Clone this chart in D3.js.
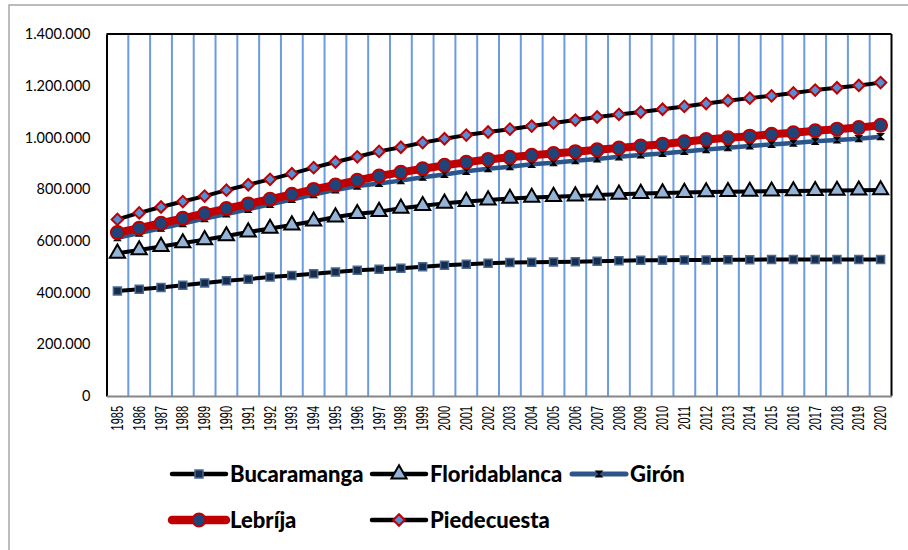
<!DOCTYPE html>
<html>
<head>
<meta charset="utf-8">
<script src="https://cdn.jsdelivr.net/npm/d3@7"></script>
<style>
  body { margin: 0; background: #fff; }
  svg { display: block; }
</style>
</head>
<body>
<svg id="chart" width="908" height="550"></svg>
<script>
// Population by municipality, 1985-2020
const years = ['1985','1986','1987','1988','1989','1990','1991','1992','1993','1994','1995','1996',
  '1997','1998','1999','2000','2001','2002','2003','2004','2005','2006','2007','2008',
  '2009','2010','2011','2012','2013','2014','2015','2016','2017','2018','2019','2020'];

const bucaramanga = [406000, 413000, 420000, 428000, 437000, 446000, 452000, 460000, 466000, 473000, 480000, 486000,
  490000, 494000, 500000, 506000, 510000, 513000, 516000, 517000, 518000, 519000, 521000, 523000,
  525000, 525000, 526000, 526000, 527000, 527000, 528000, 528000, 528000, 528000, 528000, 528000];
const floridablanca = [552000, 565000, 578000, 592000, 604000, 619000, 634000, 648000, 661000, 676000, 692000, 705000,
  713000, 726000, 736000, 745000, 752000, 758000, 764000, 768000, 771000, 773000, 777000, 780000,
  783000, 785000, 787000, 789000, 790000, 791000, 792000, 793000, 794000, 795000, 796000, 797000];
const giron = [612000, 630000, 649000, 667000, 686000, 704000, 722000, 741000, 760000, 779000, 797000, 812000,
  822000, 833000, 846000, 857000, 869000, 879000, 887000, 896000, 902000, 910000, 917000, 925000,
  932000, 938000, 946000, 953000, 960000, 967000, 973000, 978000, 985000, 990000, 995000, 1003000];
const lebrija = [632000, 649000, 668000, 687000, 706000, 725000, 743000, 761000, 780000, 799000, 816000, 834000,
  851000, 865000, 879000, 892000, 904000, 915000, 923000, 931000, 938000, 945000, 952000, 959000,
  967000, 974000, 983000, 992000, 999000, 1005000, 1012000, 1018000, 1026000, 1032000, 1038000, 1047000];
const piedecuesta = [683000, 708000, 731000, 752000, 773000, 796000, 817000, 838000, 860000, 883000, 905000, 925000,
  946000, 962000, 980000, 995000, 1009000, 1021000, 1032000, 1044000, 1056000, 1067000, 1079000, 1089000,
  1098000, 1109000, 1120000, 1131000, 1142000, 1152000, 1161000, 1172000, 1183000, 1192000, 1201000, 1212000];

const yTicks = [0, 200000, 400000, 600000, 800000, 1000000, 1200000, 1400000];

const series = [
  { name: 'Bucaramanga', values: bucaramanga, line: '#000', lineWidth: 4, marker: 'square' },
  { name: 'Floridablanca', values: floridablanca, line: '#000', lineWidth: 4, marker: 'triangle' },
  { name: 'Girón', values: giron, line: '#2c5689', lineWidth: 4.5, marker: 'x' },
  { name: 'Lebríja', values: lebrija, line: '#c00000', lineWidth: 8, marker: 'circle' },
  { name: 'Piedecuesta', values: piedecuesta, line: '#000', lineWidth: 4, marker: 'diamond' }
];

const svg = d3.select('#chart');
const margin = { top: 34, right: 16.5, bottom: 154, left: 106.5 };
const W = 908, H = 550;

// outer chart frame
svg.append('rect')
  .attr('x', 9).attr('y', 5)
  .attr('width', 920).attr('height', 600)
  .attr('fill', '#fff')
  .attr('stroke', '#a6a6a6').attr('stroke-width', 1.5);

const x = d3.scaleBand()
  .domain(years)
  .range([margin.left, W - margin.right])
  .padding(0);

const y = d3.scaleLinear()
  .domain([0, 1400000])
  .range([H - margin.bottom, margin.top]);

const cx = d => x(d) + x.bandwidth() / 2;

// vertical grid lines at category boundaries
svg.append('g')
  .selectAll('line')
  .data(years.slice(1))
  .join('line')
  .attr('x1', d => x(d)).attr('x2', d => x(d))
  .attr('y1', y(1400000)).attr('y2', y(0))
  .attr('stroke', '#6b9be0').attr('stroke-width', 2);

// plot frame: top, right, left black; bottom grey
const x0 = x.range()[0], x1 = x.range()[1];
svg.append('line').attr('x1', x0).attr('x2', x1).attr('y1', y(1400000)).attr('y2', y(1400000))
  .attr('stroke', '#000').attr('stroke-width', 2);
svg.append('line').attr('x1', x1).attr('x2', x1).attr('y1', y(1400000)).attr('y2', y(0))
  .attr('stroke', '#000').attr('stroke-width', 2);

// y axis
const fmt = v => d3.format(',')(v).replace(/,/g, '.');
const yAxis = svg.append('g')
  .attr('transform', `translate(${x0},0)`)
  .call(d3.axisLeft(y).tickValues(yTicks).tickFormat(fmt).tickSize(0).tickPadding(16));
yAxis.select('.domain').attr('stroke', '#000').attr('stroke-width', 2);
yAxis.selectAll('text')
  .attr('font-family', 'Lato, sans-serif')
  .attr('font-size', 14.5)
  .attr('fill', '#000');

// x axis
const xAxis = svg.append('g')
  .attr('transform', `translate(0,${y(0)})`)
  .call(d3.axisBottom(x).tickSize(0).tickPadding(0));
xAxis.select('.domain').attr('stroke', '#868686').attr('stroke-width', 2);
xAxis.selectAll('text')
  .attr('font-family', '"Liberation Sans", Arial, sans-serif')
  .attr('font-size', 11)
  .attr('fill', '#000')
  .attr('text-anchor', 'end')
  .attr('dy', '0.35em')
  .attr('transform', 'translate(0,10) rotate(-90) scale(1,1.45)');

// marker drawing
function drawMarker(sel, type) {
  if (type === 'square') {
    sel.append('path')
      .attr('d', d3.symbol(d3.symbolSquare, 64)())
      .attr('fill', '#152c4d').attr('stroke', '#4a6a96').attr('stroke-width', 1.5);
  } else if (type === 'triangle') {
    sel.append('path')
      .attr('d', d3.symbol(d3.symbolTriangle, 100)())
      .attr('fill', '#95b3d7').attr('stroke', '#000').attr('stroke-width', 2);
  } else if (type === 'x') {
    sel.append('path')
      .attr('d', 'M-3,-3L3,-3L-3,3L3,3Z')
      .attr('fill', '#000').attr('stroke', '#000').attr('stroke-width', 1.2);
  } else if (type === 'circle') {
    sel.append('circle')
      .attr('r', 6.5)
      .attr('fill', '#1f4479').attr('stroke', '#c00000').attr('stroke-width', 2);
  } else if (type === 'diamond') {
    sel.append('path')
      .attr('d', d3.symbol(d3.symbolSquare, 66)())
      .attr('transform', 'rotate(45)')
      .attr('fill', '#558ed5').attr('stroke', '#c00000').attr('stroke-width', 2);
  }
}

const line = d3.line()
  .x((d, i) => cx(years[i]))
  .y(d => y(d));

series.forEach(s => {
  const g = svg.append('g');
  g.append('path')
    .datum(s.values)
    .attr('d', line)
    .attr('fill', 'none')
    .attr('stroke', s.line)
    .attr('stroke-width', s.lineWidth)
    .attr('stroke-linejoin', 'round');
  g.selectAll('g.pt')
    .data(s.values)
    .join('g')
    .attr('class', 'pt')
    .attr('transform', (d, i) => `translate(${cx(years[i])},${y(d)})`)
    .each(function () { drawMarker(d3.select(this), s.marker); });
});

// legend
const legendPos = [
  { x: 172, y: 474 }, { x: 372, y: 474 }, { x: 572, y: 474 },
  { x: 172, y: 520 }, { x: 372, y: 520 }
];
series.forEach((s, i) => {
  const p = legendPos[i];
  const g = svg.append('g').attr('transform', `translate(${p.x},${p.y})`);
  g.append('line')
    .attr('x1', 0).attr('x2', 54).attr('y1', 0).attr('y2', 0)
    .attr('stroke', s.line).attr('stroke-width', s.lineWidth + 0.5)
    .attr('stroke-linecap', 'round');
  const m = g.append('g').attr('transform', 'translate(27,0)');
  drawMarker(m, s.marker);
  g.append('text')
    .attr('x', 58).attr('y', 0).attr('dy', '0.36em')
    .attr('font-family', 'Lato, sans-serif')
    .attr('font-weight', 900)
    .attr('font-size', 22)
    .attr('fill', '#000')
    .text(s.name);
});
</script>
</body>
</html>
